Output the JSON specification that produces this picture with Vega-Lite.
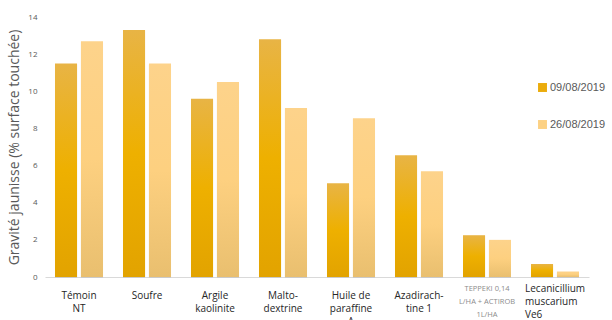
{
  "$schema": "https://vega.github.io/schema/vega-lite/v6.json",
  "width": 544,
  "height": 260,
  "autosize": {"type": "none"},
  "padding": {"left": 45, "top": 17, "right": 23, "bottom": 43},
  "background": "white",
  "config": {"view": {"stroke": null}, "font": "Open Sans"},
  "data": {
    "values": [
      {"cat": "Témoin|NT", "date": "09/08/2019", "v": 11.5},
      {"cat": "Témoin|NT", "date": "26/08/2019", "v": 12.7},
      {"cat": "Soufre", "date": "09/08/2019", "v": 13.3},
      {"cat": "Soufre", "date": "26/08/2019", "v": 11.5},
      {"cat": "Argile|kaolinite", "date": "09/08/2019", "v": 9.6},
      {"cat": "Argile|kaolinite", "date": "26/08/2019", "v": 10.5},
      {"cat": "Malto-|dextrine", "date": "09/08/2019", "v": 12.8},
      {"cat": "Malto-|dextrine", "date": "26/08/2019", "v": 9.1},
      {"cat": "Huile de|paraffine|A", "date": "09/08/2019", "v": 5.05},
      {"cat": "Huile de|paraffine|A", "date": "26/08/2019", "v": 8.55},
      {"cat": "Azadirach-|tine 1", "date": "09/08/2019", "v": 6.55},
      {"cat": "Azadirach-|tine 1", "date": "26/08/2019", "v": 5.7},
      {"cat": "TEPPEKI  0,14|L/HA + ACTIROB|1L/HA", "date": "09/08/2019", "v": 2.25},
      {"cat": "TEPPEKI  0,14|L/HA + ACTIROB|1L/HA", "date": "26/08/2019", "v": 2.0},
      {"cat": "Lecanicillium|muscarium|Ve6", "date": "09/08/2019", "v": 0.7},
      {"cat": "Lecanicillium|muscarium|Ve6", "date": "26/08/2019", "v": 0.3}
    ]
  },
  "encoding": {
    "x": {
      "field": "cat", "type": "nominal", "sort": null,
      "scale": {"paddingInner": 0.294, "paddingOuter": 0.147},
      "axis": {
        "title": null, "labelAngle": 0, "ticks": false,
        "domainColor": "#d9d9d9",
        "labelPadding": {"condition": {"test": "indexof(datum.value, 'Lecanicillium') >= 0 || indexof(datum.value, 'TEPPEKI') >= 0", "value": 11}, "value": 18},
        "labelExpr": "split(datum.label, '|')",
        "labelFontSize": {"condition": {"test": "indexof(datum.value, 'TEPPEKI') >= 0", "value": 7.5}, "value": 10},
        "labelColor": {"condition": {"test": "indexof(datum.value, 'TEPPEKI') >= 0", "value": "#8c8c8c"}, "value": "#262626"},
        "labelAlign": {"condition": {"test": "indexof(datum.value, 'Lecanicillium') >= 0", "value": "left"}, "value": "center"},
        "labelOffset": {"condition": {"test": "indexof(datum.value, 'Lecanicillium') >= 0", "value": -30}, "value": 0},
        "labelLineHeight": 13,
        "labelBaseline": "middle"
      }
    },
    "xOffset": {"field": "date", "type": "nominal", "scale": {"paddingInner": 0.15}},
    "y": {
      "field": "v", "type": "quantitative",
      "scale": {"domain": [0, 14]},
      "axis": {
        "title": "Gravité jaunisse (% surface touchée)",
        "titleFontSize": 14, "titleFontWeight": "normal", "titleColor": "#595959",
        "titlePadding": 6,
        "values": [0, 2, 4, 6, 8, 10, 12, 14],
        "grid": false, "domain": false, "ticks": false,
        "labelFontSize": 8, "labelColor": "#595959", "labelPadding": 8
      }
    },
    "color": {
      "field": "date", "type": "nominal",
      "scale": {"range": ["#EBAC0C", "#FCD184"]},
      "legend": {
        "title": null, "orient": "none", "legendX": 492, "legendY": 65,
        "symbolType": "square", "symbolSize": 80, "symbolStrokeWidth": 0,
        "labelFontSize": 11, "labelColor": "#595959", "rowPadding": 25,
        "labelFont": "Liberation Sans", "labelOffset": 2
      }
    }
  },
  "layer": [
    {
      "mark": {"type": "bar", "fill": "#bdbdbd", "opacity": 0.55, "xOffset": 2, "yOffset": 1},
      "encoding": {"color": {"value": "#bdbdbd"}}
    },
    {
      "transform": [{"filter": "datum.date == '09/08/2019'"}],
      "mark": {"type": "bar", "fill": {"gradient": "linear", "x1": 0, "y1": 0, "x2": 0, "y2": 1, "stops": [{"offset": 0, "color": "#E8B445"}, {"offset": 0.5, "color": "#EEB000"}, {"offset": 1, "color": "#E2A300"}]}}
    },
    {
      "transform": [{"filter": "datum.date == '26/08/2019'"}],
      "mark": {"type": "bar", "fill": {"gradient": "linear", "x1": 0, "y1": 0, "x2": 0, "y2": 1, "stops": [{"offset": 0, "color": "#FDD38B"}, {"offset": 0.5, "color": "#FDD080"}, {"offset": 1, "color": "#E9BF6F"}]}}
    }
  ]
}
